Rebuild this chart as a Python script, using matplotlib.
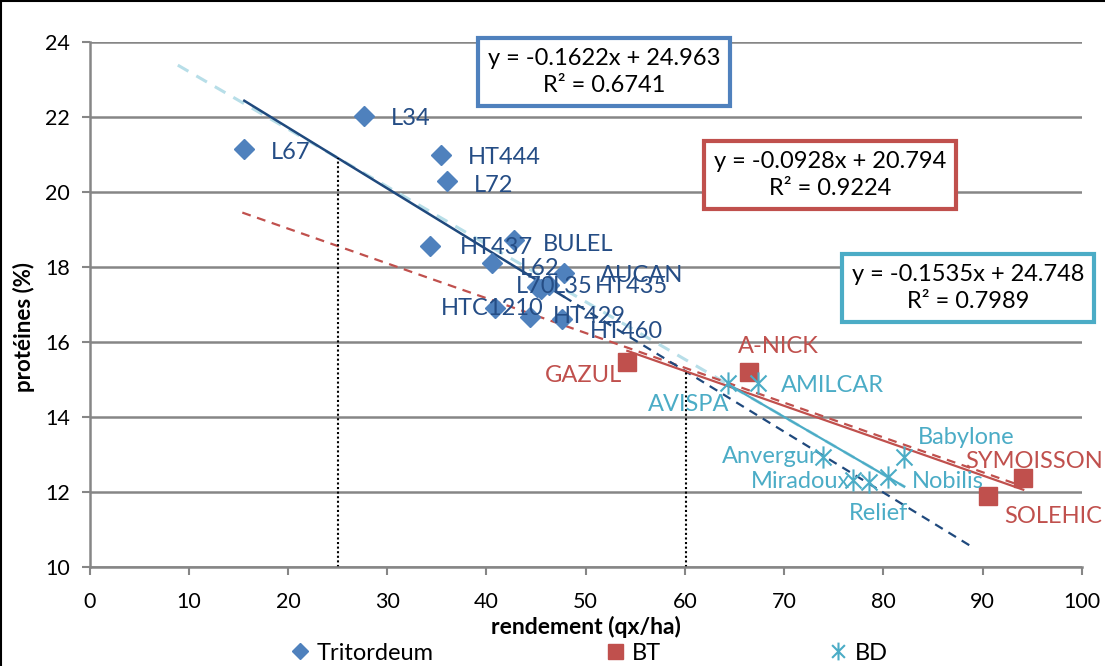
import numpy as np
import matplotlib
matplotlib.use("Agg")
import matplotlib.pyplot as plt
from matplotlib.path import Path
from matplotlib.lines import Line2D

plt.rcParams['font.family'] = ['Lato', 'DejaVu Sans']

# ---------------------------------------------------------------------------
# data
tri_names = ['L67', 'L34', 'HT444', 'L72', 'HT437', 'BULEL', 'L62', 'AUCAN',
             'L70', 'L35', 'HT435', 'HTC1210', 'HT429', 'HT460']
tri_x = [15.6, 27.7, 35.4, 36.0, 34.3, 42.8, 40.6, 47.8,
         45.1, 45.5, 46.3, 40.9, 44.4, 47.6]
tri_y = [21.14, 22.03, 20.99, 20.29, 18.57, 18.72, 18.10, 17.83,
         17.47, 17.42, 17.52, 16.90, 16.67, 16.62]

bt_names = ['GAZUL', 'A-NICK', 'SOLEHIC', 'SYMOISSON']
bt_x = [54.2, 66.5, 90.5, 94.1]
bt_y = [15.46, 15.19, 11.89, 12.37]

bd_names = ['AVISPA', 'AMILCAR', 'Anvergur', 'Babylone', 'Miradoux', 'Relief', 'Nobilis']
bd_x = [64.3, 67.4, 73.9, 82.1, 76.9, 78.6, 80.5]
bd_y = [14.90, 14.90, 12.94, 12.94, 12.32, 12.27, 12.41]

# trend line equations shown on the chart (slope, intercept), r2
tri_fit = [-0.1622, 24.963]
bt_fit = [-0.0928, 20.794]
bd_fit = [-0.1535, 24.748]
r2_tri, r2_bt, r2_bd = 0.6741, 0.9224, 0.7989
bt_dash_fit = [-0.0928, 20.88]

# ---------------------------------------------------------------------------
# styling
c_tri, c_tri_txt, c_tri_line = '#4F81BD', '#254D85', '#1F497D'
c_bt = '#C0504D'
c_bd = '#4BACC6'
c_bd_pale = '#B7DEE8'
grid_c = '#868686'

# label offsets in pixels (dx, dy, ha)
tri_off = [(27, -3, 'left'), (27, -3, 'left'), (27, -3, 'left'), (27, -4, 'left'),
           (30, -2, 'left'), (29, -5, 'left'), (28, -5, 'left'), (36, -2, 'left'),
           (-1, 0, 'center'), (12, 2, 'left'), (46, -2, 'left'), (-3, 0, 'center'),
           (23, 0, 'left'), (28, -13, 'left')]
bt_off = [(-5, -13, 'right'), (-11, 26, 'left'), (17, -20, 'left'), (-58, 17, 'left')]
bd_off = [(2, -21, 'right'), (23, -2, 'left'), (-4, 0, 'right'), (14, 19, 'left'),
          (-2, -1, 'right'), (9, -32, 'center'), (24, -5, 'left')]

star = Path([(0, -1), (0, 1), (-0.72, -0.72), (0.72, 0.72), (-0.72, 0.72), (0.72, -0.72)],
            [Path.MOVETO, Path.LINETO, Path.MOVETO, Path.LINETO, Path.MOVETO, Path.LINETO])

fig = plt.figure(figsize=(11.05, 6.66), dpi=100)
ax = fig.add_axes([0.081, 0.1486, 0.898, 0.7884])

##########################################################################
# trend lines
def line(fit, x0, x1, **kw):
    xs = np.array([x0, x1])
    ax.plot(xs, np.polyval(fit, xs), **kw)

line(bd_fit, 8.9, 82.2, color=c_bd_pale, lw=2.2, dashes=(4, 3), zorder=2)
line(bt_dash_fit, 15.4, 94.0, color=c_bt, lw=1.6, dashes=(4, 3), zorder=2)
line(tri_fit, max(tri_x), 89.2, color=c_tri_line, lw=1.6, dashes=(4, 3), zorder=2)
line(tri_fit, min(tri_x), max(tri_x), color=c_tri_line, lw=1.8, zorder=2)
line(bt_fit, min(bt_x), max(bt_x), color=c_bt, lw=1.6, zorder=2)
line(bd_fit, min(bd_x), max(bd_x), color=c_bd, lw=1.6, zorder=2)

# dotted reference lines
xa = 25
ax.plot([xa, xa], [10, np.polyval(tri_fit, xa)], color='black', lw=1.5, ls=(0, (1, 1.2)), zorder=2)
xb = (bt_fit[1] - tri_fit[1]) / (tri_fit[0] - bt_fit[0])
ax.plot([xb, xb], [10, np.polyval(tri_fit, xb)], color='black', lw=1.5, ls=(0, (1, 1.2)), zorder=2)

##########################################################################
# points
h_tri, = ax.plot(tri_x, tri_y, ls='none', marker='D', ms=10.5, color=c_tri, mec=c_tri, zorder=3,
                 label='Tritordeum')
h_bt, = ax.plot(bt_x, bt_y, ls='none', marker='s', ms=13.5, color=c_bt, mec=c_bt, zorder=3,
                label='BT')
h_bd, = ax.plot(bd_x, bd_y, ls='none', marker=star, ms=16, mfc='none', mec=c_bd, mew=1.5,
                zorder=3, label='BD')

for names, xs, ys, offs, col in [(tri_names, tri_x, tri_y, tri_off, c_tri_txt),
                                 (bt_names, bt_x, bt_y, bt_off, c_bt),
                                 (bd_names, bd_x, bd_y, bd_off, c_bd)]:
    for n, x, y, (dx, dy, ha) in zip(names, xs, ys, offs):
        ax.annotate(n, (x, y), xytext=(dx, dy), textcoords='offset pixels', ha=ha, va='center',
                    fontsize=17, color=col, zorder=4, annotation_clip=False)

##########################################################################
# equation boxes
def eq_box(fit, r2, x, y, col):
    s = 'y = %.4fx + %.3f\nR² = %.4f' % (fit[0], fit[1], r2)
    ax.text(x, y, s, transform=fig.transFigure, ha='center', va='center', fontsize=17,
            linespacing=1.35, color='black', zorder=5,
            bbox=dict(boxstyle='square,pad=0.42', fc='white', ec=col, lw=3))

eq_box(tri_fit, r2_tri, 604 / 1105, 1 - 72 / 666, c_tri)
eq_box(bt_fit, r2_bt, 830 / 1105, 1 - 175 / 666, c_bt)
eq_box(bd_fit, r2_bd, 968 / 1105, 1 - 288 / 666, c_bd)

##########################################################################
# axes
ax.set_xlim(0, 100)
ax.set_ylim(10, 24)
ax.set_xticks(np.arange(0, 101, 10))
ax.set_yticks(np.arange(10, 25, 2))
ax.yaxis.grid(True, color=grid_c, lw=1.8)
ax.set_axisbelow(True)
for s in ['top', 'right']:
    ax.spines[s].set_visible(False)
for s in ['left', 'bottom']:
    ax.spines[s].set_color(grid_c)
    ax.spines[s].set_linewidth(1.8)
ax.tick_params(axis='x', colors=grid_c, labelcolor='black', labelsize=15.5, length=6, width=1.5,
               pad=12)
ax.tick_params(axis='y', colors=grid_c, labelcolor='black', labelsize=15.5, length=6, width=1.5,
               pad=8)
ax.set_xlabel('rendement (qx/ha)', fontsize=16.5, fontweight='bold', labelpad=3)
ax.set_ylabel('protéines (%)', fontsize=16, fontweight='bold')
ax.yaxis.set_label_coords(-0.055, 0.457)

# legend, one entry per slot as in the reference
for h, xpos in [(h_tri, 305), (h_bt, 620), (h_bd, 843)]:
    fig.legend(handles=[h], loc='center left', bbox_to_anchor=((xpos - 14) / 1105, 1 - 653 / 666),
               frameon=False, fontsize=17, handlelength=0.8, handletextpad=0.3,
               markerscale=0.8, borderpad=0, borderaxespad=0)

# chart border
fig.add_artist(Line2D([0.001, 0.001], [0, 1], color='black', lw=1.5, transform=fig.transFigure))
fig.add_artist(Line2D([0, 1], [0.999, 0.999], color='black', lw=1.5, transform=fig.transFigure))

fig.savefig('out.png', dpi=100)
